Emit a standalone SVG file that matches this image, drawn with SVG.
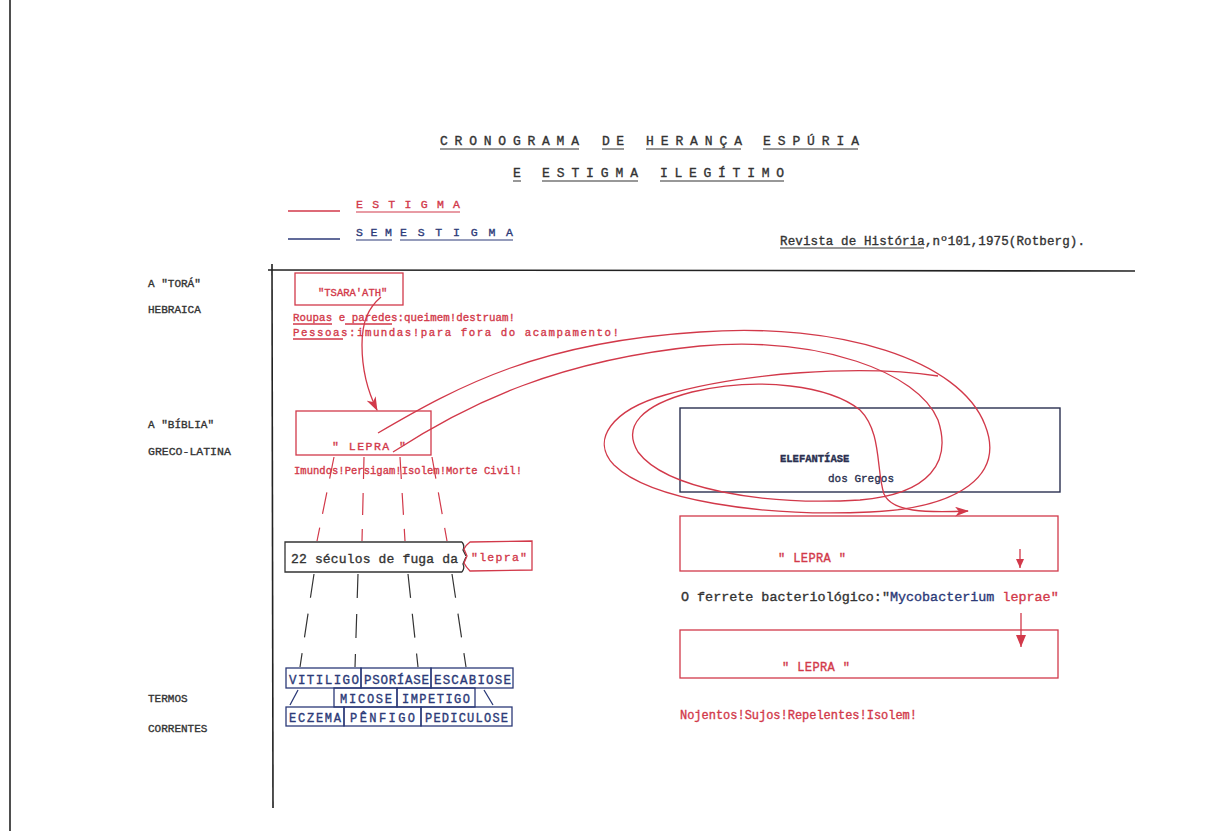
<svg xmlns="http://www.w3.org/2000/svg" width="1205" height="831" viewBox="0 0 1205 831">
<defs>
<marker id="ah" markerWidth="14" markerHeight="10" refX="13" refY="5" orient="auto" markerUnits="userSpaceOnUse"><path d="M0,0 L14,5 L0,10 L4,5 Z" fill="#d2394a"/></marker>
<marker id="ahs" markerWidth="8" markerHeight="9" refX="4" refY="9" orient="0" markerUnits="userSpaceOnUse"><path d="M0,0 L4,9 L8,0 Z" fill="#d2394a"/></marker>
<marker id="ahm" markerWidth="10" markerHeight="12" refX="5" refY="12" orient="0" markerUnits="userSpaceOnUse"><path d="M0,0 L5,12 L10,0 Z" fill="#d2394a"/></marker>
<style>
.t{font-family:"Liberation Mono","DejaVu Sans Mono",monospace;stroke-width:0.35}
text.r{fill:#d2394a;stroke:#d2394a}
text.b{fill:#2c3a78;stroke:#2c3a78}
text.k{fill:#333;stroke:#333}
.rs{stroke:#d2394a;fill:none;stroke-width:1.3}
.bs{stroke:#2c3a78;fill:none;stroke-width:1.3}
.ks{stroke:#333;fill:none;stroke-width:1.3}
.ul{stroke-width:1.2}
.dr{stroke:#d2394a;stroke-width:1.2;stroke-dasharray:22 14;fill:none}
.dk{stroke:#333;stroke-width:1.2;stroke-dasharray:24 16;fill:none}
</style>
</defs>
<rect width="1205" height="831" fill="#fff"/>
<line x1="10" y1="0" x2="10" y2="831" stroke="#222" stroke-width="1.6"/>

<g id="title">
<text class="t k" x="440" y="145" font-size="13" textLength="139">CRONOGRAMA</text>
<text class="t k" x="602" y="145" font-size="13" textLength="22">DE</text>
<text class="t k" x="646" y="145" font-size="13" textLength="96">HERANÇA</text>
<text class="t k" x="763" y="145" font-size="13" textLength="96">ESPÚRIA</text>
<path class="ks ul" d="M440,149H579M602,149H624M646,149H741M763,149H858"/>
<text class="t k" x="513" y="177" font-size="13">E</text>
<text class="t k" x="542" y="177" font-size="13" textLength="96">ESTIGMA</text>
<text class="t k" x="660" y="177" font-size="13" textLength="124">ILEGÍTIMO</text>
<path class="ks ul" d="M513,181H521M542,181H638M660,181H784"/>
</g>

<g id="legend">
<line x1="288" y1="211" x2="340" y2="211" stroke="#d2394a" stroke-width="1.5"/>
<text class="t r" x="356" y="208" font-size="11.5" textLength="104">ESTIGMA</text>
<line x1="356" y1="212" x2="460" y2="212" stroke="#d2394a" stroke-width="1.2"/>
<line x1="288" y1="239" x2="340" y2="239" stroke="#2c3a78" stroke-width="1.5"/>
<text class="t b" x="356" y="236" font-size="11.5" textLength="36">SEM</text>
<text class="t b" x="400" y="236" font-size="11.5" textLength="113">ESTIGMA</text>
<path class="bs ul" d="M356,240H392M400,240H513"/>
</g>

<g id="source">
<text class="t k" x="780" y="245" font-size="12.5" textLength="305">Revista de História,nº101,1975(Rotberg).</text>
<line x1="780" y1="248" x2="924" y2="248" stroke="#333" stroke-width="1"/>
</g>

<g id="axes">
<line x1="268" y1="270" x2="1135" y2="271" stroke="#222" stroke-width="1.6"/>
<line x1="272" y1="264" x2="273" y2="808" stroke="#222" stroke-width="1.6"/>
</g>

<g id="labels">
<text class="t k" x="148" y="287" font-size="11">A "TORÁ"</text>
<text class="t k" x="148" y="313" font-size="11">HEBRAICA</text>
<text class="t k" x="148" y="428" font-size="11">A "BÍBLIA"</text>
<text class="t k" x="148" y="455" font-size="11.5">GRECO-LATINA</text>
<text class="t k" x="148" y="702" font-size="11">TERMOS</text>
<text class="t k" x="148" y="732" font-size="11">CORRENTES</text>
</g>

<g id="tsaraath">
<rect class="rs" x="295" y="273" width="108" height="32"/>
<text class="t r" x="318" y="296" font-size="10.5">"TSARA'ATH"</text>
<text class="t r" x="293" y="321" font-size="10.8" textLength="222">Roupas e paredes:queimem!destruam!</text>
<text class="t r" x="293" y="336" font-size="10.8" textLength="326">Pessoas:imundas!para fora do acampamento!</text>
<path class="rs" stroke-width="1" d="M293,324H332M345,324H392M293,339H343"/>
</g>

<g id="lepra1">
<rect class="rs" x="296" y="411" width="135" height="44"/>
<text class="t r" x="332" y="450" font-size="11.5" textLength="74">" LEPRA "</text>
<text class="t r" x="294" y="474" font-size="10.5" textLength="228">Imundos!Persigam!Isolem!Morte Civil!</text>
</g>

<g id="seculos">
<path class="ks" d="M462,542H285V572H462M462,542Q465,546 463,550L466,556M462,572Q465,568 463,564L466,557"/>
<text class="t k" x="291" y="563" font-size="13" textLength="167">22 séculos de fuga da</text>
<path class="rs" d="M470,542L532,541V570L470,571Q466,567 464,563L467,556L464,549Q466,545 470,542Z"/>
<text class="t r" x="471" y="561" font-size="11.5" textLength="56">"lepra"</text>
</g>

<g id="terms">
<rect class="bs" x="286" y="668" width="75" height="20"/>
<rect class="bs" x="361" y="668" width="70" height="20"/>
<rect class="bs" x="431" y="668" width="82" height="20"/>
<rect class="bs" x="334" y="688" width="63" height="19"/>
<rect class="bs" x="397" y="688" width="78" height="19"/>
<rect class="bs" x="286" y="707" width="58" height="19"/>
<rect class="bs" x="344" y="707" width="77" height="19"/>
<rect class="bs" x="421" y="707" width="91" height="19"/>
<path class="bs" d="M298,690L290,705M484,690L493,705"/>
<text class="t b" x="289" y="684" font-size="12.5" textLength="70">VITILIGO</text>
<text class="t b" x="364" y="684" font-size="12.5" textLength="65">PSORÍASE</text>
<text class="t b" x="434" y="684" font-size="12.5" textLength="77">ESCABIOSE</text>
<text class="t b" x="340" y="703" font-size="12" textLength="52">MICOSE</text>
<text class="t b" x="402" y="703" font-size="12" textLength="68">IMPETIGO</text>
<text class="t b" x="289" y="722" font-size="12" textLength="52">ECZEMA</text>
<text class="t b" x="350" y="722" font-size="12" textLength="65">PÊNFIGO</text>
<text class="t b" x="425" y="722" font-size="12" textLength="83">PEDICULOSE</text>
</g>

<g id="elefantiase">
<rect x="680" y="408" width="380" height="84" fill="none" stroke="#2a3050" stroke-width="1.4"/>
<text class="t" x="780" y="462" font-size="10.5" fill="#2a3050" stroke="#2a3050" font-weight="bold">ELEFANTÍASE</text>
<text class="t" x="828" y="482" font-size="11" fill="#2a3050" stroke="#2a3050">dos Gregos</text>
</g>

<g id="lepra2">
<rect class="rs" x="680" y="516" width="378" height="55"/>
<text class="t r" x="778" y="562" font-size="12" textLength="68">" LEPRA "</text>
</g>

<g id="ferrete">
<text class="t" x="681" y="601" font-size="13.4"><tspan fill="#333" stroke="#333">O ferrete bacteriológico:"</tspan><tspan fill="#2c3a78" stroke="#2c3a78">Mycobacterium</tspan><tspan fill="#d2394a" stroke="#d2394a"> leprae"</tspan></text>
</g>

<g id="lepra3">
<rect class="rs" x="680" y="630" width="378" height="48"/>
<text class="t r" x="782" y="671" font-size="12" textLength="68">" LEPRA "</text>
<text class="t r" x="680" y="719" font-size="12" textLength="237">Nojentos!Sujos!Repelentes!Isolem!</text>
</g>

<g id="connectors">
<path class="rs" d="M381,297C368,308 362,322 362,345C362,372 368,392 377,410" marker-end="url(#ah)"/>
<path class="dr" d="M334,457L317,541M364,457L362,541M400,457L405,541M432,457L447,541"/>
<path class="dk" d="M314,574L300,667M358,574L355,667M408,574L418,667M452,574L466,667"/>
<path class="rs" d="M378,433C460,385 540,342 700,332C840,322 960,360 985,425C1005,475 960,508 870,512C760,517 650,500 614,465C590,440 612,410 665,395C740,373 860,364 938,376"/>
<path class="rs" d="M393,452C470,402 560,360 700,346C820,336 918,372 938,420C952,462 930,494 860,500C760,506 665,488 638,452C622,426 642,405 692,392C760,376 830,386 860,410C882,432 876,470 884,494C892,512 925,513 968,511" marker-end="url(#ah)"/>
<line class="rs" x1="1020" y1="549" x2="1020" y2="568" marker-end="url(#ahs)"/>
<line class="rs" x1="1021" y1="613" x2="1021" y2="647" marker-end="url(#ahm)"/>
</g>
</svg>
